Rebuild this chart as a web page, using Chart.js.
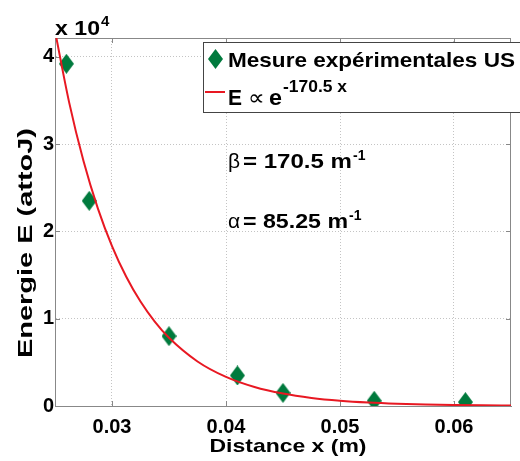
<!DOCTYPE html>
<html>
<head>
<meta charset="utf-8">
<script src="https://cdn.jsdelivr.net/npm/chart.js@4/dist/chart.umd.min.js"></script>
<style>
  html, body { margin: 0; padding: 0; background: #fff; }
  canvas { display: block; }
</style>
</head>
<body>
<canvas id="myChart" width="520" height="461"></canvas>
<script>
// measured points (distance in m, energy in attoJ)
var mesureX = [0.026, 0.028, 0.035, 0.041, 0.045, 0.053, 0.061];
var mesureE = [39200, 23500, 8000, 3500, 1500, 600, 450];

// fitted curve
var fitX = [0.025, 0.02625, 0.0275, 0.02875, 0.03, 0.03125, 0.0325, 0.03375, 0.035,
            0.0375, 0.04, 0.0425, 0.045, 0.0475, 0.05, 0.0525, 0.055, 0.0575,
            0.06, 0.0625, 0.065];
var fitE = [42965, 34719, 28055, 22670, 18318, 14802, 11961, 9665, 7810,
            5100, 3330, 2174, 1420, 927, 605, 395, 258, 168,
            110, 72, 47];

var xTicks = [0.03, 0.04, 0.05, 0.06];
var yTicks = [0, 10000, 20000, 30000, 40000];

var FAM = '"Liberation Sans", Arial, Helvetica, sans-serif';
var GREEN = 'rgb(0,122,61)';
var RED = 'rgb(232,24,34)';

// diamond marker (taller than wide like the matlab one)
var diamond = document.createElement('canvas');
diamond.width = 15; diamond.height = 20;
(function() {
  var c = diamond.getContext('2d');
  c.fillStyle = GREEN;
  c.beginPath();
  c.moveTo(7.5, 0); c.lineTo(15, 10); c.lineTo(7.5, 20); c.lineTo(0, 10);
  c.closePath();
  c.fill();
})();

// text stretched horizontally to a target width
function fitText(ctx, s, x, y, font, targetW, align) {
  ctx.save();
  ctx.font = font;
  var w = ctx.measureText(s).width;
  var sx = targetW ? targetW / w : 1;
  ctx.translate(x, y);
  ctx.scale(sx, 1);
  ctx.textAlign = align || 'left';
  ctx.textBaseline = 'alphabetic';
  ctx.fillStyle = '#000';
  ctx.fillText(s, 0, 0);
  ctx.restore();
  return w * sx;
}

var framePlugin = {
  id: 'frame',
  beforeDatasetsDraw: function(chart) {
    var ctx = chart.ctx, a = chart.chartArea;
    var xs = chart.scales.x, ys = chart.scales.y;
    ctx.save();
    ctx.strokeStyle = '#888';
    ctx.lineWidth = 1;
    ctx.beginPath();
    ctx.moveTo(a.left, a.top + 0.5); ctx.lineTo(a.right, a.top + 0.5);
    ctx.moveTo(a.right - 0.5, a.top); ctx.lineTo(a.right - 0.5, a.bottom);
    // inner tick marks
    xTicks.forEach(function(v) {
      var px = Math.round(xs.getPixelForValue(v)) + 0.5;
      ctx.moveTo(px, a.bottom); ctx.lineTo(px, a.bottom - 5);
      ctx.moveTo(px, a.top); ctx.lineTo(px, a.top + 5);
    });
    yTicks.forEach(function(v) {
      var py = Math.round(ys.getPixelForValue(v)) + 0.5;
      ctx.moveTo(a.left, py); ctx.lineTo(a.left + 5, py);
      ctx.moveTo(a.right, py); ctx.lineTo(a.right - 5, py);
    });
    ctx.stroke();
    ctx.restore();
  },
  afterDraw: function(chart) {
    var ctx = chart.ctx;
    ctx.save();
    // exponent label
    fitText(ctx, 'x 10', 55, 35, 'bold 21px ' + FAM, 45);
    fitText(ctx, '4', 101, 26, 'bold 15px ' + FAM, 0);

    // axis titles
    fitText(ctx, 'Distance x (m)', 288, 452, 'bold 19px ' + FAM, 157, 'center');
    ctx.save();
    ctx.translate(32, 243);
    ctx.rotate(-Math.PI / 2);
    fitText(ctx, 'Energie E (attoJ)', 0, 0, 'bold 21px ' + FAM, 230, 'center');
    ctx.restore();

    // legend
    ctx.fillStyle = '#fff';
    ctx.fillRect(203, 42, 330, 71);
    ctx.strokeStyle = '#444';
    ctx.lineWidth = 1;
    ctx.strokeRect(203.5, 42.5, 330, 70);
    ctx.drawImage(diamond, 208, 49, 15, 20);
    fitText(ctx, 'Mesure expérimentales US', 228, 67, 'bold 21px ' + FAM, 287);
    ctx.strokeStyle = RED;
    ctx.lineWidth = 2;
    ctx.beginPath();
    ctx.moveTo(205, 92); ctx.lineTo(225, 92);
    ctx.stroke();
    fitText(ctx, 'E', 228, 105, 'bold 22px ' + FAM, 14);
    fitText(ctx, '\u221D', 248, 105, '22px ' + FAM, 17);
    fitText(ctx, 'e', 269, 105, 'bold 22px ' + FAM, 13);
    fitText(ctx, '-170.5 x', 283, 92, 'bold 17px ' + FAM, 64);

    // fit parameters
    fitText(ctx, '\u03B2', 228, 168, '21px ' + FAM, 0);
    fitText(ctx, '= 170.5 m', 243, 168, 'bold 21px ' + FAM, 109);
    fitText(ctx, '-1', 353, 160, 'bold 14px ' + FAM, 0);
    fitText(ctx, '\u03B1', 228, 228, '21px ' + FAM, 0);
    fitText(ctx, '= 85.25 m', 243, 228, 'bold 21px ' + FAM, 105);
    fitText(ctx, '-1', 349, 220, 'bold 14px ' + FAM, 0);
    ctx.restore();
  }
};

var tickFont = { family: FAM, size: 20, weight: 'bold' };

var config = {
  type: 'scatter',
  data: {
    datasets: [{
      label: 'Mesure expérimentales US',
      data: mesureX.map(function(x, i) { return { x: x, y: mesureE[i] }; }),
      pointStyle: diamond,
      pointRadius: 8,
      showLine: false,
      order: 2
    }, {
      label: 'E \u221D e^-170.5 x',
      data: fitX.map(function(x, i) { return { x: x, y: fitE[i] }; }),
      showLine: true,
      borderColor: RED,
      borderWidth: 2,
      pointRadius: 0,
      tension: 0.4,
      cubicInterpolationMode: 'monotone',
      order: 1
    }]
  },
  options: {
    responsive: false,
    animation: false,
    devicePixelRatio: 1,
    layout: { padding: { top: 38, right: 1, left: 0, bottom: 0 } },
    plugins: {
      legend: { display: false },
      tooltip: { enabled: false }
    },
    scales: {
      x: {
        type: 'linear',
        min: 0.025,
        max: 0.065,
        afterBuildTicks: function(s) { s.ticks = xTicks.map(function(v) { return { value: v }; }); },
        afterFit: function(s) { s.height = 55; },
        ticks: {
          font: tickFont, color: '#000', padding: 9, maxRotation: 0, autoSkip: false,
          callback: function(v) { return v.toFixed(2); }
        },
        grid: { color: '#c4c4c4', drawTicks: false },
        border: { display: true, color: '#888', dash: [1, 2] }
      },
      y: {
        min: 0,
        max: 42150,
        afterBuildTicks: function(s) { s.ticks = yTicks.map(function(v) { return { value: v }; }); },
        afterFit: function(s) { s.width = 55; },
        ticks: {
          font: tickFont, color: '#000', padding: 1, autoSkip: false,
          callback: function(v) { return String(v / 10000); }
        },
        grid: { color: '#c4c4c4', drawTicks: false },
        border: { display: true, color: '#888', dash: [1, 2] }
      }
    }
  },
  plugins: [framePlugin]
};

var ctx = document.getElementById('myChart').getContext('2d');
var myChart = new Chart(ctx, config);
</script>
</body>
</html>
